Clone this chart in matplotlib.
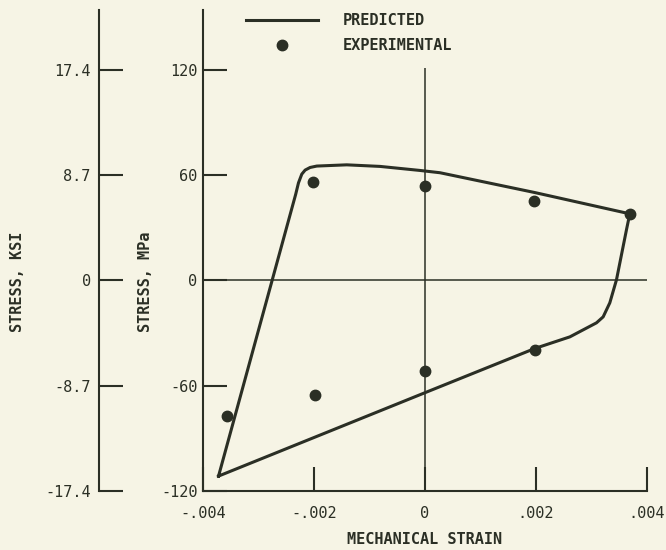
import matplotlib
matplotlib.use("Agg")
import matplotlib.pyplot as plt

# predicted hysteresis loop (strain, stress MPa)
pred_strain = [-0.00372, -0.00233, -0.00228, -0.00222, -0.00216, -0.00207,
               -0.00195, -0.00141, -0.00081, -0.00009, 0.00027, 0.00198,
               0.00369, 0.00363, 0.00345, 0.00333, 0.00321, 0.00309,
               0.00261, 0.00198, 0.0, -0.00372]
pred_stress = [-111.5, 49.0, 55.5, 60.5, 62.8, 64.3,
               65.1, 65.8, 64.9, 62.6, 61.3, 50.0,
               37.9, 28.8, 0.3, -12.8, -20.8, -24.2,
               -32.2, -38.8, -64.0, -111.5]

# experimental points
exp_strain = [-0.00356, -0.00198, 0.0, 0.00198, -0.00202, 0.0, 0.00196, 0.00369]
exp_stress = [-77.3, -65.3, -51.6, -39.5, 56.0, 53.9, 45.3, 37.9]

mpa_ticks = [-120, -60, 0, 60, 120]
ksi_ticks = [-17.4, -8.7, 0, 8.7, 17.4]
ksi_labels = ["-17.4", "-8.7", "0", "8.7", "17.4"]
strain_ticks = [-0.004, -0.002, 0, 0.002, 0.004]
strain_labels = ["-.004", "-.002", "0", ".002", ".004"]

ink = "#2b2f25"
paper = "#f6f4e5"
plt.rcParams["font.family"] = "DejaVu Sans Mono"
plt.rcParams["text.color"] = ink

MPA_PER_KSI = 6.8948
ytop = 154.0

fig = plt.figure(figsize=(6.66, 5.5), dpi=100, facecolor=paper)
left, bottom = 203 / 666, 59 / 550
width, height = 444 / 666, 481 / 550

ax = fig.add_axes([left, bottom, width, height])
ax.set_facecolor("none")
ax.plot(pred_strain, pred_stress, color=ink, lw=2.2, solid_joinstyle="round",
        label="PREDICTED")
ax.plot(exp_strain, exp_stress, "o", color=ink, ms=7.5, label="EXPERIMENTAL")
ax.axhline(0, color=ink, lw=1.1)
ax.vlines(0, -120, 121, color=ink, lw=1.1)

ax.set_xlim(-0.004, 0.004)
ax.set_ylim(-120, ytop)
for s in ["top", "right"]:
    ax.spines[s].set_visible(False)
for s in ["left", "bottom"]:
    ax.spines[s].set_color(ink)
    ax.spines[s].set_linewidth(1.5)
ax.set_yticks(mpa_ticks)
ax.set_yticklabels([str(t) for t in mpa_ticks])
ax.set_xticks(strain_ticks)
ax.set_xticklabels(strain_labels)
ax.tick_params(axis="both", direction="in", length=17, width=1.5, color=ink,
               labelcolor=ink, labelsize=11)
ax.tick_params(axis="y", pad=4)
ax.tick_params(axis="x", pad=11)
ax.set_xlabel("MECHANICAL STRAIN", fontsize=11, fontweight="bold", color=ink,
              labelpad=8)

leg = ax.legend(loc="upper left", bbox_to_anchor=(246 / 666, 537 / 550),
                bbox_transform=fig.transFigure, frameon=False, fontsize=11,
                handlelength=4.7, handletextpad=1.6, labelspacing=0.65,
                borderpad=0, borderaxespad=0)
for t in leg.get_texts():
    t.set_fontweight("bold")
    t.set_color(ink)

# outer axis in ksi
ax2 = fig.add_axes([99 / 666, bottom, 0.05, height])
ax2.set_facecolor("none")
ax2.set_ylim(-120 / MPA_PER_KSI, ytop / MPA_PER_KSI)
for s in ["top", "right", "bottom"]:
    ax2.spines[s].set_visible(False)
ax2.spines["left"].set_color(ink)
ax2.spines["left"].set_linewidth(1.5)
ax2.set_xticks([])
ax2.set_yticks(ksi_ticks)
ax2.set_yticklabels(ksi_labels)
ax2.tick_params(axis="y", direction="in", length=17, width=1.5, color=ink,
                labelcolor=ink, labelsize=11, pad=6)

fig.text(18 / 666, 0.487, "STRESS, KSI", rotation=90, ha="center", va="center",
         fontsize=11, fontweight="bold", color=ink)
fig.text(145 / 666, 0.487, "STRESS, MPa", rotation=90, ha="center", va="center",
         fontsize=11, fontweight="bold", color=ink)

fig.savefig("out.png", dpi=100, facecolor=paper)
